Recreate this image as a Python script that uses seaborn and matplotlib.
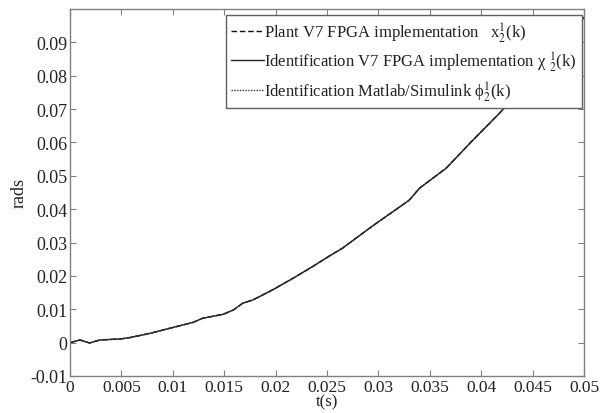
import matplotlib
matplotlib.use("Agg")
import matplotlib.pyplot as plt
import seaborn as sns
import pandas as pd
import numpy as np

# time (s)
t = [0.0, 0.00097, 0.0019, 0.0029, 0.0049, 0.0058, 0.0078, 0.0097, 0.012, 0.0129,
     0.0149, 0.0159, 0.0168, 0.0178, 0.0197, 0.0217, 0.0236, 0.0252, 0.0265, 0.0294,
     0.0330, 0.0340, 0.0366, 0.0391, 0.0416, 0.0440, 0.0470, 0.0500]
# angular position (rads)
plant = [0.0, 0.0008, -0.0001, 0.0008, 0.0011, 0.0015, 0.0028, 0.0043, 0.0061, 0.0073,
         0.0085, 0.0098, 0.0118, 0.0128, 0.0158, 0.0193, 0.0228, 0.0259, 0.0283, 0.0349,
         0.0427, 0.0463, 0.0523, 0.0604, 0.0682, 0.0760, 0.0865, 0.0975]
ident_fpga = list(plant)
ident_matlab = list(plant)

labels = ["Plant V7 FPGA implementation   x$_2^1$(k)",
          "Identification V7 FPGA implementation χ $_2^1$(k)",
          "Identification Matlab/Simulink ϕ$_2^1$(k)"]

xticks = [0, 0.005, 0.01, 0.015, 0.02, 0.025, 0.03, 0.035, 0.04, 0.045, 0.05]
xticklabels = ["0", "0.005", "0.01", "0.015", "0.02", "0.025", "0.03", "0.035", "0.04", "0.045", "0.05"]
yticks = [-0.01, 0, 0.01, 0.02, 0.03, 0.04, 0.05, 0.06, 0.07, 0.08, 0.09]
yticklabels = ["-0.01", "0", "0.01", "0.02", "0.03", "0.04", "0.05", "0.06", "0.07", "0.08", "0.09"]

sns.set_style("ticks")
plt.rcParams['font.family'] = ['Liberation Serif', 'DejaVu Serif']
plt.rcParams['mathtext.fontset'] = 'stix'

df = pd.concat([
    pd.DataFrame({"t": t, "v": plant, "s": labels[0]}),
    pd.DataFrame({"t": t, "v": ident_fpga, "s": labels[1]}),
    pd.DataFrame({"t": t, "v": ident_matlab, "s": labels[2]}),
])

fig = plt.figure(figsize=(6.08, 4.14), dpi=100)
ax = fig.add_axes([70/608, 37/414, 514/608, 367/414])

sns.lineplot(data=df, x="t", y="v", hue="s", style="s",
             palette=["#111111", "#222222", "#333333"],
             dashes={labels[0]: (4, 2), labels[1]: "", labels[2]: (1, 1)},
             linewidth=1.0, ax=ax, legend=True)

ax.set_xlim(0, 0.05)
ax.set_ylim(-0.01, 0.1)
ax.set_xticks(xticks)
ax.set_xticklabels(xticklabels)
ax.set_yticks(yticks)
ax.set_yticklabels(yticklabels)
ax.tick_params(direction="in", top=True, right=True, length=4, width=0.8,
               color="#808080", labelsize=13, labelcolor="#222222")
ax.tick_params(axis="x", pad=2, labelsize=12.5)
ax.tick_params(axis="y", pad=2)
for sp in ax.spines.values():
    sp.set_color("#808080")
    sp.set_linewidth(1.0)
ax.set_xlabel("t(s)", fontsize=12, color="#222222", labelpad=-1)
ax.set_ylabel("rads", fontsize=13, color="#222222", labelpad=2)

leg = ax.legend(loc="upper right", bbox_to_anchor=(0.996, 0.984), fontsize=12,
                handlelength=2.0, handletextpad=0.0, labelspacing=0.32,
                borderpad=0.3, borderaxespad=0.0, fancybox=False, framealpha=1,
                edgecolor="#606060")
leg.get_frame().set_linewidth(1.0)
for txt in leg.get_texts():
    txt.set_color("#222222")

fig.savefig("out.png", dpi=100)
